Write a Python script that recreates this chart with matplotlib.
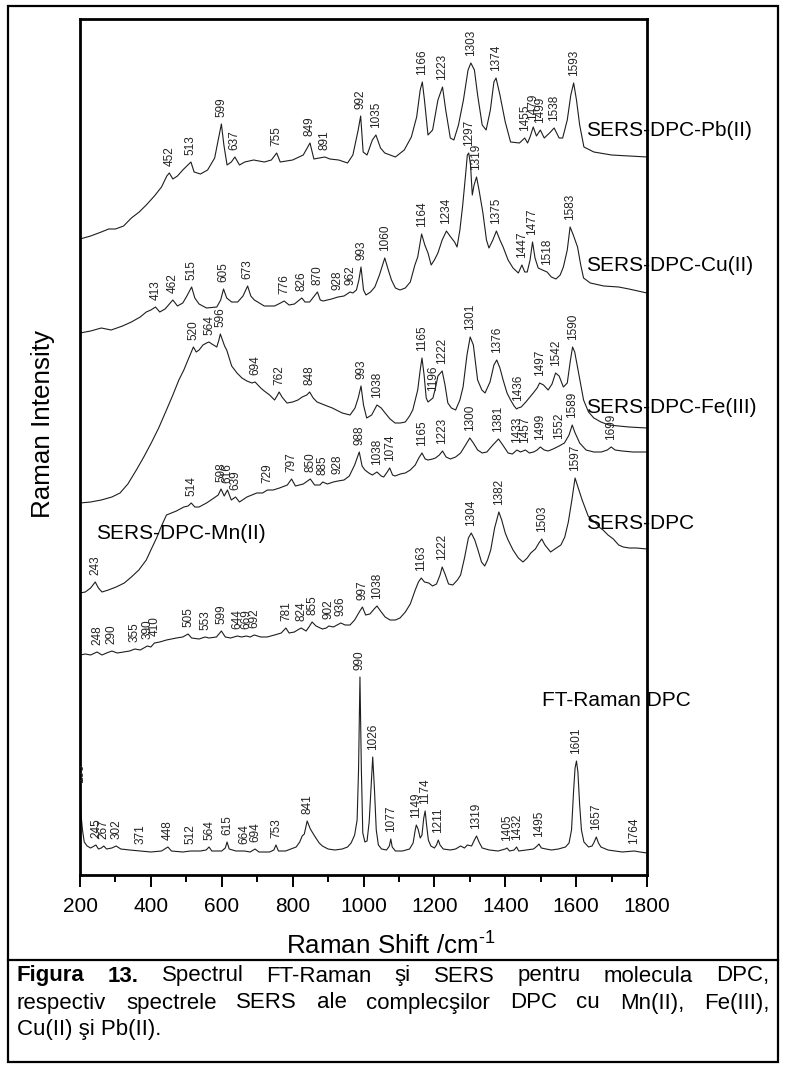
import numpy as np
import matplotlib
matplotlib.use('Agg')
import matplotlib.pyplot as plt
from matplotlib.patches import Rectangle
from matplotlib.lines import Line2D

plt.rcParams['font.family'] = ['Liberation Sans', 'DejaVu Sans']
plt.rcParams['mathtext.fontset'] = 'custom'
plt.rcParams['mathtext.rm'] = 'Liberation Sans'

W, H = 787, 1070  # figure size in pixels (dpi 100)

# ---- spectra: Raman shift [cm-1] and stacked intensity (offset units) ----
pb_x = [200, 230, 260, 281, 300, 323, 345, 367, 387, 410, 430, 445, 452, 462, 475, 490, 513, 522,
        540, 560, 580, 590, 599, 606, 615, 627, 637, 650, 665, 690, 720, 740, 755, 765, 800, 830,
        849, 860, 875, 891, 905, 930, 955, 970, 985, 992, 999, 1010, 1025, 1035, 1048, 1060, 1090,
        1115, 1135, 1150, 1160, 1166, 1172, 1182, 1195, 1210, 1223, 1232, 1245, 1255, 1268, 1282,
        1295, 1303, 1313, 1322, 1335, 1346, 1358, 1368, 1374, 1385, 1400, 1415, 1440, 1455, 1463,
        1470, 1479, 1488, 1499, 1510, 1525, 1538, 1552, 1562, 1575, 1585, 1593, 1601, 1610, 1622,
        1650, 1700, 1750, 1800]
pb_y = [636, 639, 643, 646, 646, 649, 657, 663, 670, 679, 688, 699, 702, 696, 699, 705, 713, 703,
        701, 705, 717, 735, 751, 730, 710, 713, 718, 710, 713, 715, 713, 715, 722, 713, 715, 720,
        732, 716, 717, 718, 716, 715, 712, 720, 745, 759, 723, 720, 735, 740, 727, 722, 718,
        725, 738, 758, 785, 793, 775, 740, 745, 775, 788, 765, 737, 735, 750, 775,
        805, 812, 805, 780, 750, 745, 765, 793, 797, 780, 753, 733, 732, 737, 732,
        738, 748, 739, 745, 737, 742, 747, 737, 737, 755, 780, 792, 775, 750, 728,
        723, 720, 719, 718]
pb_peaks = [452, 513, 599, 637, 755, 849, 891, 992, 1035, 1166, 1223, 1303, 1374, 1455, 1479,
            1499, 1538, 1593]

cu_x = [200, 230, 260, 288, 320, 345, 370, 387, 400, 413, 425, 440, 462, 475, 490, 500, 515, 524,
        536, 557, 586, 597, 605, 614, 628, 645, 660, 673, 682, 692, 720, 749, 766, 776, 790, 805,
        826, 835, 848, 870, 878, 886, 910, 928, 945, 962, 970, 980, 987, 993, 1000, 1007, 1020,
        1032, 1045, 1060, 1070, 1079, 1090, 1103, 1118, 1132, 1145, 1153, 1164, 1173, 1182, 1191,
        1200, 1210, 1222, 1234, 1244, 1257, 1264, 1272, 1280, 1288, 1293, 1297, 1302, 1307, 1312,
        1319, 1326, 1337, 1347, 1354, 1365, 1375, 1385, 1394, 1408, 1422, 1437, 1447, 1455, 1462,
        1470, 1477, 1484, 1493, 1505, 1518, 1530, 1543, 1555, 1564, 1575, 1583, 1592, 1604, 1613,
        1621, 1640, 1678, 1720, 1749, 1800]
cu_y = [542, 544, 547, 545, 549, 553, 558, 563, 565, 568, 563, 566, 575, 569, 572, 578, 588, 577,
        571, 567, 568, 575, 586, 577, 573, 573, 579, 589, 579, 575, 569, 569, 572, 574, 570, 571,
        577, 573, 573, 583, 575, 574, 576, 578, 579, 583, 582, 585, 595, 608, 585, 580, 583,
        588, 600, 617, 605, 595, 587, 585, 587, 593, 610, 618, 641, 630, 622, 610,
        615, 622, 635, 644, 639, 633, 628, 645, 670, 700, 720, 722, 710, 680, 690,
        698, 685, 662, 635, 627, 635, 644, 635, 628, 615, 607, 602, 610, 603, 603,
        615, 633, 617, 607, 605, 603, 598, 596, 600, 608, 625, 648, 640, 628, 610,
        597, 592, 589, 588, 586, 582]
cu_peaks = [413, 462, 515, 605, 673, 776, 826, 870, 928, 962, 993, 1060, 1164, 1234, 1297, 1319,
            1375, 1447, 1477, 1518, 1583]

fe_x = [200, 230, 260, 290, 313, 335, 359, 380, 401, 422, 444, 462, 479, 493, 507, 520, 528, 536,
        547, 557, 564, 572, 586, 592, 596, 602, 608, 614, 621, 628, 643, 657, 671, 685, 694, 710,
        720, 735, 749, 756, 762, 770, 784, 800, 815, 827, 840, 848, 858, 869, 890, 912, 940, 962,
        976, 985, 993, 1000, 1009, 1023, 1038, 1050, 1061, 1075, 1089, 1104, 1118, 1130, 1139,
        1153, 1160, 1165, 1171, 1177, 1182, 1196, 1203, 1210, 1222, 1230, 1238, 1248, 1260, 1272,
        1281, 1292, 1301, 1310, 1322, 1334, 1343, 1357, 1368, 1376, 1385, 1394, 1405, 1415, 1425,
        1432, 1436, 1445, 1458, 1479, 1490, 1497, 1508, 1521, 1532, 1542, 1552, 1564, 1575, 1584,
        1590, 1596, 1607, 1621, 1635, 1650, 1670, 1692, 1720, 1749, 1800]
fe_y = [372, 373, 375, 378, 382, 391, 405, 418, 432, 447, 465, 480, 495, 505, 517, 528, 523, 525,
        530, 532, 533, 531, 528, 535, 541, 535, 529, 525, 517, 509, 502, 497, 494, 492, 493, 487,
        484, 480, 475, 479, 483, 478, 472, 473, 475, 478, 480, 483, 477, 473, 470, 467, 462, 460,
        467, 477, 489, 470, 457, 460, 470, 467, 462, 456, 452, 452, 453, 459, 465,
        485, 505, 517, 500, 477, 473, 477, 487, 499, 504, 490, 472, 467, 465, 475,
        488, 520, 538, 530, 495, 485, 482, 493, 510, 515, 507, 495, 482, 475, 469,
        466, 467, 468, 473, 482, 487, 492, 490, 485, 491, 502, 499, 488, 492, 515,
        528, 523, 502, 475, 463, 457, 453, 450, 449, 448, 447]
fe_peaks = [520, 564, 596, 694, 762, 848, 993, 1038, 1165, 1196, 1222, 1301, 1376, 1436, 1497,
            1542, 1590]

mn_x = [200, 215, 230, 243, 252, 262, 280, 302, 325, 345, 366, 387, 400, 416, 430, 444, 458, 472,
        493, 505, 514, 524, 536, 557, 578, 590, 598, 607, 616, 627, 639, 650, 671, 699, 715, 729,
        745, 763, 785, 797, 808, 830, 850, 862, 877, 885, 898, 915, 928, 945, 960, 975, 988, 996,
        1004, 1015, 1025, 1038, 1050, 1057, 1067, 1074, 1082, 1089, 1104, 1118, 1132, 1146, 1156,
        1165, 1174, 1182, 1195, 1203, 1214, 1223, 1233, 1245, 1260, 1274, 1288, 1300, 1310, 1322,
        1335, 1348, 1365, 1381, 1393, 1408, 1420, 1433, 1443, 1457, 1468, 1480, 1490, 1499, 1510,
        1521, 1535, 1552, 1567, 1580, 1589, 1596, 1610, 1628, 1650, 1671, 1688, 1699, 1710, 1730,
        1760, 1800]
mn_y = [282, 283, 287, 293, 287, 283, 285, 288, 292, 298, 305, 315, 325, 337, 349, 360, 362, 364,
        368, 369, 372, 368, 368, 372, 377, 380, 386, 379, 385, 375, 378, 373, 378, 382, 382, 385,
        385, 387, 390, 396, 389, 391, 396, 390, 390, 393, 391, 393, 394, 395, 399, 410, 423, 409,
        405, 402, 400, 403, 399, 398, 403, 407, 400, 399, 401, 402, 405, 410, 417,
        422, 416, 415, 416, 417, 420, 424, 418, 416, 418, 422, 430, 437, 432, 425,
        422, 423, 430, 436, 430, 422, 421, 425, 423, 425, 422, 423, 425, 428, 425,
        424, 426, 429, 432, 440, 450, 443, 432, 425, 423, 423, 425, 428, 425, 424,
        423, 423]
mn_peaks = [243, 514, 598, 616, 639, 729, 797, 850, 885, 928, 988, 1038, 1074, 1165, 1223, 1300,
            1381, 1433, 1457, 1499, 1552, 1589, 1699]

dpc_x = [200, 215, 230, 248, 262, 275, 290, 305, 323, 340, 355, 370, 390, 400, 410, 425, 444, 472,
         490, 505, 515, 536, 553, 564, 585, 599, 610, 625, 644, 656, 669, 680, 692, 710, 728, 749,
         768, 781, 790, 805, 814, 824, 838, 846, 855, 866, 884, 895, 902, 915, 936, 948, 962, 975,
         988, 997, 1006, 1018, 1030, 1038, 1048, 1061, 1075, 1090, 1103, 1118, 1132, 1146, 1155,
         1163, 1172, 1184, 1195, 1206, 1216, 1222, 1230, 1240, 1252, 1265, 1274, 1285, 1296, 1304,
         1314, 1323, 1333, 1342, 1350, 1359, 1370, 1382, 1390, 1400, 1408, 1422, 1437, 1450, 1462,
         1472, 1485, 1495, 1503, 1512, 1528, 1540, 1557, 1568, 1578, 1588, 1597, 1606, 1617, 1634,
         1645, 1655, 1668, 1676, 1690, 1705, 1720, 1733, 1750, 1770, 1800]
dpc_y = [220, 221, 220, 223, 220, 222, 224, 222, 223, 224, 226, 225, 229, 228, 232, 233, 235, 237,
         238, 241, 237, 236, 238, 237, 238, 244, 238, 237, 239, 238, 239, 238, 240, 238, 238, 240,
         242, 247, 242, 243, 245, 247, 244, 248, 253, 249, 246, 247, 249, 248, 252, 250, 250, 255,
         263, 268, 260, 261, 266, 269, 264, 258, 255, 255, 257, 263, 271, 285, 293,
         297, 293, 292, 289, 291, 300, 308, 301, 291, 290, 295, 300, 317, 337, 342,
         335, 325, 313, 309, 315, 325, 347, 363, 355, 342, 335, 325, 317, 313, 317,
         322, 326, 332, 336, 330, 323, 326, 330, 338, 353, 375, 397, 387, 375, 359,
         355, 352, 347, 345, 340, 336, 330, 328, 327, 327, 326]
dpc_peaks = [248, 290, 355, 390, 410, 505, 553, 599, 644, 669, 692, 781, 824, 855, 902, 936, 997,
             1038, 1163, 1222, 1304, 1382, 1503, 1597]

ft_x = [200, 203, 207, 212, 220, 230, 245, 252, 260, 267, 275, 290, 302, 315, 340, 371, 400, 430,
        448, 458, 490, 512, 540, 556, 564, 572, 600, 610, 615, 621, 640, 664, 680, 694, 705, 735,
        747, 753, 760, 780, 795, 810, 820, 827, 833, 841, 850, 862, 875, 884, 900, 919, 940, 955,
        965, 975, 982, 986, 990, 994, 998, 1004, 1010, 1016, 1021, 1026, 1031, 1036, 1042, 1051,
        1065, 1073, 1077, 1081, 1090, 1110, 1130, 1140, 1146, 1149, 1154, 1160, 1165, 1170, 1174,
        1178, 1183, 1190, 1200, 1206, 1211, 1216, 1225, 1245, 1260, 1274, 1285, 1293, 1305, 1313,
        1319, 1326, 1335, 1355, 1380, 1400, 1405, 1412, 1425, 1432, 1438, 1460, 1480, 1490, 1495,
        1502, 1515, 1530, 1550, 1570, 1580, 1587, 1593, 1597, 1601, 1605, 1610, 1615, 1622, 1635,
        1645, 1651, 1657, 1663, 1670, 1690, 1710, 1730, 1764, 1780, 1800]
ft_y = [85, 60, 45, 33, 29, 27, 30, 26, 27, 29, 26, 27, 29, 26, 25, 24, 23, 24,
        28, 24, 23, 24, 24, 25, 28, 24, 24, 27, 33, 26, 24, 24, 23, 26, 23, 23,
        25, 30, 24, 24, 26, 28, 33, 39, 41, 54, 46, 39, 32, 29, 26, 25, 26, 28,
        32, 40, 55, 105, 198, 105, 42, 33, 34, 53, 85, 118, 85, 45, 30, 26,
        25, 29, 36, 28, 24, 24, 26, 32, 45, 50, 46, 37, 40, 57, 64,
        50, 35, 29, 27, 30, 35, 30, 26, 25, 26, 29, 27, 30, 29, 35,
        39, 33, 27, 25, 24, 26, 27, 24, 25, 28, 24, 25, 26, 29, 31,
        27, 26, 25, 26, 28, 32, 45, 85, 107, 114, 103, 70, 45, 33, 28,
        29, 33, 38, 32, 28, 25, 24, 23, 24, 23, 22]
ft_peaks = [199, 245, 267, 302, 371, 448, 512, 564, 615, 664, 694, 753, 841, 990, 1026, 1077,
            1149, 1174, 1211, 1319, 1405, 1432, 1495, 1601, 1657, 1764]

# spectrum names and where they sit (cm-1, intensity)
names = ['SERS-DPC-Pb(II)', 'SERS-DPC-Cu(II)', 'SERS-DPC-Fe(III)', 'SERS-DPC',
         'SERS-DPC-Mn(II)', 'FT-Raman DPC']
name_x = [1628, 1628, 1628, 1628, 245, 1504]
name_y = [745, 610, 468, 352, 342, 175]

LABEL_GAP = 7

fig = plt.figure(figsize=(W / 100, H / 100), dpi=100)


def fx(px):
    return px / W


def fy(py):
    return 1 - py / H


ax = fig.add_axes([fx(80), fy(875), (647 - 80) / W, (875 - 19) / H])
ax.set_xlim(200, 1800)
ax.set_ylim(0, 856)

spectra = [(pb_x, pb_y, pb_peaks), (cu_x, cu_y, cu_peaks), (fe_x, fe_y, fe_peaks),
           (mn_x, mn_y, mn_peaks), (dpc_x, dpc_y, dpc_peaks), (ft_x, ft_y, ft_peaks)]
for xs, ys, peaks in spectra:
    ax.plot(xs, ys, color='#1e1e1e', lw=0.8)
    for p in peaks:
        ax.text(p, np.interp(p, xs, ys) + LABEL_GAP, str(p), rotation=90,
                ha='center', va='bottom', fontsize=8.5, color='#222222', clip_on=True)

for s, x, y in zip(names, name_x, name_y):
    ax.text(x, y, s, fontsize=15, ha='left', va='center', clip_on=False)

ax.set_yticks([])
ax.set_xticks(range(200, 1801, 200))
ax.set_xticks(range(300, 1800, 200), minor=True)
ax.tick_params(axis='x', which='major', direction='out', length=8.6, width=1.4,
               labelsize=15, pad=7)
ax.tick_params(axis='x', which='minor', direction='out', length=5, width=1.4)
for sp in ax.spines.values():
    sp.set_linewidth(2.0)

fig.text(fx(43), fy(424), 'Raman Intensity', rotation=90, fontsize=18.7,
         ha='center', va='center')
fig.text(fx(391), fy(945), r'Raman Shift /cm$^{\text{-1}}$', fontsize=18.7,
         ha='center', va='center')

# frame round the figure and the caption
fig.patches.append(Rectangle((fx(8), fy(1062)), (778 - 8) / W, (1062 - 6) / H,
                             transform=fig.transFigure, fill=False, lw=1.6, color='black'))
fig.lines.append(Line2D([fx(8), fx(778)], [fy(960), fy(960)], transform=fig.transFigure,
                        lw=1.6, color='black'))

# justified caption
CAP_FS = 16
renderer = fig.canvas.get_renderer()


def caption_line(words, y, x0, x1):
    texts = [fig.text(0, fy(y), w, fontsize=CAP_FS, fontweight=wt, ha='left', va='center')
             for w, wt in words]
    widths = [t.get_window_extent(renderer).width for t in texts]
    gap = (x1 - x0 - sum(widths)) / (len(texts) - 1)
    x = x0
    for t, w in zip(texts, widths):
        t.set_x(fx(x))
        x += w + gap


line1 = [('Figura', 'bold'), ('13.', 'bold')] + \
    [(w, 'normal') for w in 'Spectrul FT-Raman şi SERS pentru molecula DPC,'.split()]
line2 = [(w, 'normal') for w in
         'respectiv spectrele SERS ale complecşilor DPC cu Mn(II), Fe(III),'.split()]
caption_line(line1, 976, 17, 769)
caption_line(line2, 1003, 17, 769)
fig.text(fx(17), fy(1030), 'Cu(II) şi Pb(II).', fontsize=CAP_FS, ha='left', va='center')

fig.savefig('out.png', dpi=100)
